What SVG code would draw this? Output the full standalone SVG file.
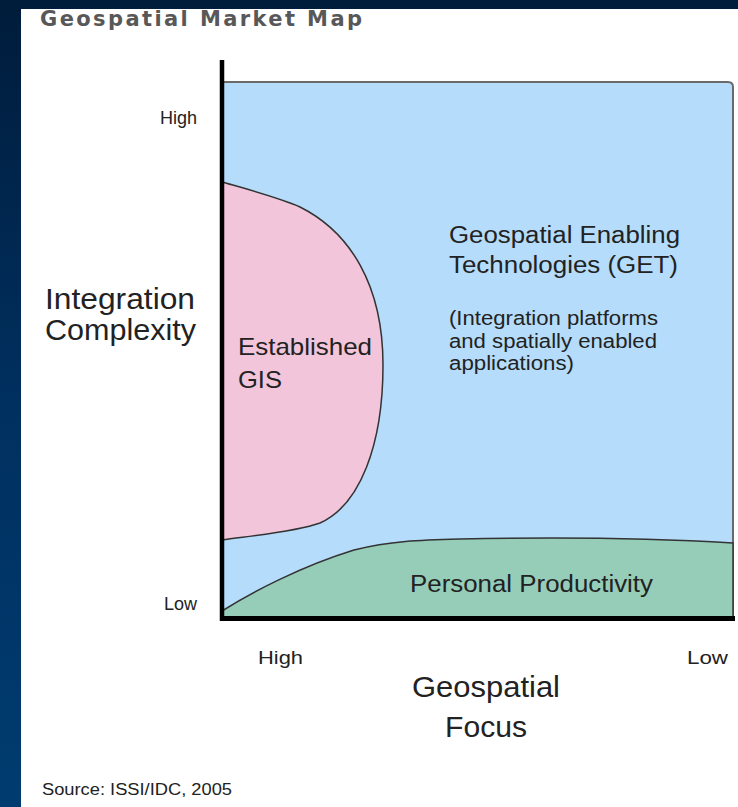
<svg xmlns="http://www.w3.org/2000/svg" width="738" height="807" viewBox="0 0 738 807">
<defs>
<linearGradient id="bg" x1="0" y1="0" x2="0" y2="1">
<stop offset="0" stop-color="#001c3b"/>
<stop offset="0.5" stop-color="#003060"/>
<stop offset="1" stop-color="#003c70"/>
</linearGradient>
</defs>
<style>
.t{font-family:"Liberation Sans",Arial,sans-serif;fill:#222}
.region{stroke:#333;stroke-width:1.5}
.axis{stroke:#000;fill:none}
</style>
<rect x="0" y="0" width="738" height="807" fill="url(#bg)"/>
<rect x="0" y="0" width="738" height="9" fill="#001d3c"/>
<rect x="21" y="9" width="717" height="798" fill="#ffffff"/>
<text x="40" y="26" font-family="DejaVu Sans, sans-serif" font-weight="bold" font-size="21" fill="#585858" textLength="322" lengthAdjust="spacing">Geospatial Market Map</text>
<g id="get">
<path d="M222,82 H728 Q733,82 733,87 V617 H222 Z" fill="#b5dcfb" stroke="#6a6a6a" stroke-width="2"/>
<text class="t" font-size="23" x="449" y="243" textLength="231" lengthAdjust="spacingAndGlyphs">Geospatial Enabling</text>
<text class="t" font-size="23" x="449" y="273" textLength="229" lengthAdjust="spacingAndGlyphs">Technologies (GET)</text>
<text class="t" font-size="19.5" x="449" y="325" fill="#333" textLength="209" lengthAdjust="spacingAndGlyphs">(Integration platforms</text>
<text class="t" font-size="19.5" x="449" y="348" fill="#333" textLength="208" lengthAdjust="spacingAndGlyphs">and spatially enabled</text>
<text class="t" font-size="19.5" x="449" y="370" fill="#333" textLength="125" lengthAdjust="spacingAndGlyphs">applications)</text>
</g>
<g id="gis">
<path class="region" fill="#f3c5db" d="M222,182 C250,190 280,198 300,207 C350,232 383,285 383,365 C383,445 360,505 320,523 C295,532 250,536 222,540 Z"/>
<text class="t" font-size="24" x="238" y="355" textLength="134" lengthAdjust="spacingAndGlyphs">Established</text>
<text class="t" font-size="24" x="238" y="388" textLength="44" lengthAdjust="spacingAndGlyphs">GIS</text>
</g>
<g id="personal">
<path class="region" fill="#95cdb9" d="M222,611 C252,592 302,566 354,550 C390,541 420,540 460,539 C550,537 650,538 733,543 L733,617 L222,617 Z"/>
<text class="t" font-size="23.5" x="410" y="592" textLength="243" lengthAdjust="spacingAndGlyphs">Personal Productivity</text>
</g>
<g id="axes">
<line class="axis" x1="222" y1="60" x2="222" y2="621" stroke-width="4.5"/>
<line class="axis" x1="220" y1="618.5" x2="735" y2="618.5" stroke-width="5"/>
</g>
<g id="labels">
<text class="t" font-size="18" x="197" y="124" text-anchor="end" fill="#333">High</text>
<text class="t" font-size="18" x="197" y="610" text-anchor="end" fill="#333">Low</text>
<text class="t" font-size="17.5" x="258" y="664" fill="#333" textLength="45" lengthAdjust="spacingAndGlyphs">High</text>
<text class="t" font-size="17.5" x="687" y="664" fill="#333" textLength="41" lengthAdjust="spacingAndGlyphs">Low</text>
<text class="t" font-size="29" x="45" y="309" textLength="150" lengthAdjust="spacingAndGlyphs">Integration</text>
<text class="t" font-size="29" x="45" y="340" textLength="151" lengthAdjust="spacingAndGlyphs">Complexity</text>
<text class="t" font-size="29" x="412" y="697" textLength="148" lengthAdjust="spacingAndGlyphs">Geospatial</text>
<text class="t" font-size="29" x="445" y="737" textLength="82" lengthAdjust="spacingAndGlyphs">Focus</text>
<text class="t" font-size="16" x="42" y="795" fill="#707070" textLength="190" lengthAdjust="spacingAndGlyphs">Source: ISSI/IDC, 2005</text>
</g>
</svg>
